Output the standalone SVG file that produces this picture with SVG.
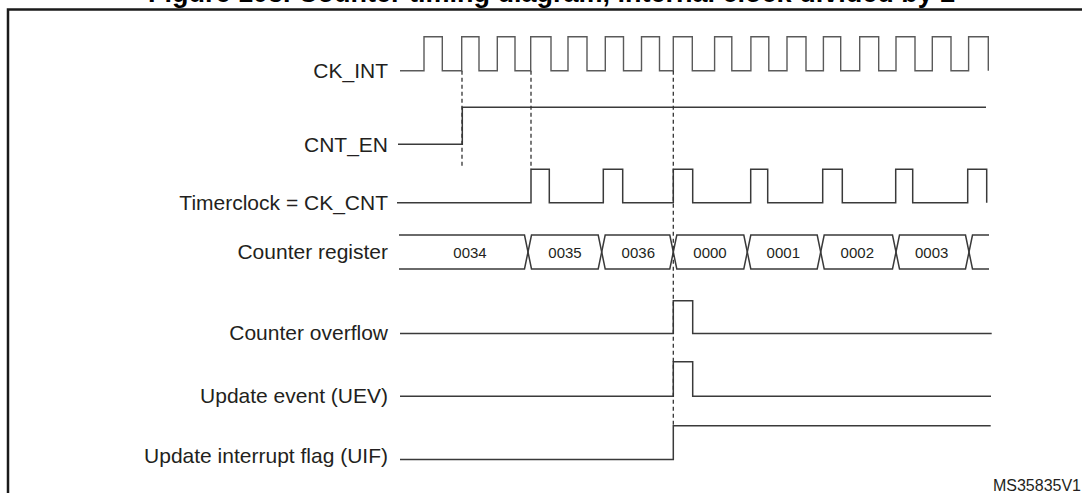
<svg xmlns="http://www.w3.org/2000/svg" width="1082" height="493" viewBox="0 0 1082 493">
<style>
.lbl{font-family:"Liberation Sans",Arial,sans-serif;font-size:21px;fill:#231f20;text-anchor:end}
.val{font-family:"Liberation Sans",Arial,sans-serif;font-size:15px;fill:#231f20;text-anchor:middle}
.title{font-family:"Liberation Sans",Arial,sans-serif;font-size:27px;font-weight:bold;fill:#000}
.ref{font-family:"Liberation Sans",Arial,sans-serif;font-size:16px;fill:#231f20;text-anchor:end}
.w{fill:none;stroke:#3a3a3a;stroke-width:1.5;stroke-linejoin:miter}
.clk{fill:none;stroke:#5a5a5a;stroke-width:1.4}
.dash{fill:none;stroke:#333;stroke-width:1.3;stroke-dasharray:4 3}
</style>
<rect width="1082" height="493" fill="#fff"/>
<text class="title" x="148" y="1.5">Figure 103. Counter timing diagram, internal clock divided by 2</text>
<rect x="8" y="9.5" width="1100" height="500" fill="none" stroke="#1a1a1a" stroke-width="2.5"/>

<g id="ck_int">
<text class="lbl" x="388" y="78">CK_INT</text>
<path class="clk" d="M400,70.7 H424 V36.7 H442.3 V70.7 H461.7 V36.7 H479 V70.7 H497.3 V36.7 H515 V70.7 H530.7 V36.7 H551 V70.7 H568 V36.7 H587 V70.7 H605.3 V36.7 H623.5 V70.7 H641.5 V36.7 H659.5 V70.7 H673.3 V36.7 H692.3 V70.7 H714.6 V36.7 H731.8 V70.7 H750.9 V36.7 H768.8 V70.7 H787 V36.7 H806 V70.7 H823.4 V36.7 H840.7 V70.7 H859.7 V36.7 H878.7 V70.7 H896 V36.7 H915 V70.7 H932.3 V36.7 H951 V70.7 H968.6 V36.7 H988.3 V70.7"/>
</g>

<g id="cnt_en">
<text class="lbl" x="388" y="151.5">CNT_EN</text>
<path class="w" d="M398,144.3 H462.3 V107.3 H986"/>
</g>

<g id="timerclock">
<text class="lbl" x="388" y="210">Timerclock = CK_CNT</text>
<path class="w" d="M397,202.7 H531 V169.3 H549.3 V202.7 H603.3 V169.3 H622.7 V202.7 H673.3 V169.3 H692.7 V202.7 H750.7 V169.3 H767.7 V202.7 H822.7 V169.3 H842.3 V202.7 H895.7 V169.3 H912.7 V202.7 H967.7 V169.3 H986.7 V202.7"/>
</g>

<g id="counter_register">
<text class="lbl" x="388" y="258.5">Counter register</text>
<path class="w" d="M399,235 H524.5 L531.5,269 H598.2 L605.2,235 H669.8 L676.8,269 H743.8 L750.8,235 H817.2 L824.2,269 H892.5 L899.5,235 H965.5 L972.5,269 H989"/>
<path class="w" d="M399,269 H524.5 L531.5,235 H598.2 L605.2,269 H669.8 L676.8,235 H743.8 L750.8,269 H817.2 L824.2,235 H892.5 L899.5,269 H965.5 L972.5,235 H989"/>
<text class="val" x="470" y="257.5">0034</text>
<text class="val" x="565" y="257.5">0035</text>
<text class="val" x="638.3" y="257.5">0036</text>
<text class="val" x="710" y="257.5">0000</text>
<text class="val" x="783.3" y="257.5">0001</text>
<text class="val" x="857.3" y="257.5">0002</text>
<text class="val" x="931.7" y="257.5">0003</text>
</g>

<g id="counter_overflow">
<text class="lbl" x="388" y="339.5">Counter overflow</text>
<path class="w" d="M400,333.5 H673.3 V300.7 H692.7 V333.5 H991.7"/>
</g>

<g id="update_event">
<text class="lbl" x="388" y="402.5">Update event (UEV)</text>
<path class="w" d="M400,396.3 H673.3 V361.7 H692.7 V396.3 H991"/>
</g>

<g id="uif">
<text class="lbl" x="388" y="463">Update interrupt flag (UIF)</text>
<path class="w" d="M400,459.5 H673.3 V425.7 H990.7"/>
</g>

<g id="connectors">
<line class="dash" x1="462" y1="70.7" x2="462" y2="168"/>
<line class="dash" x1="531" y1="70.7" x2="531" y2="169.3"/>
<line class="dash" x1="673.3" y1="70.7" x2="673.3" y2="425.7"/>
</g>

<text class="ref" x="1081" y="491">MS35835V1</text>
</svg>
